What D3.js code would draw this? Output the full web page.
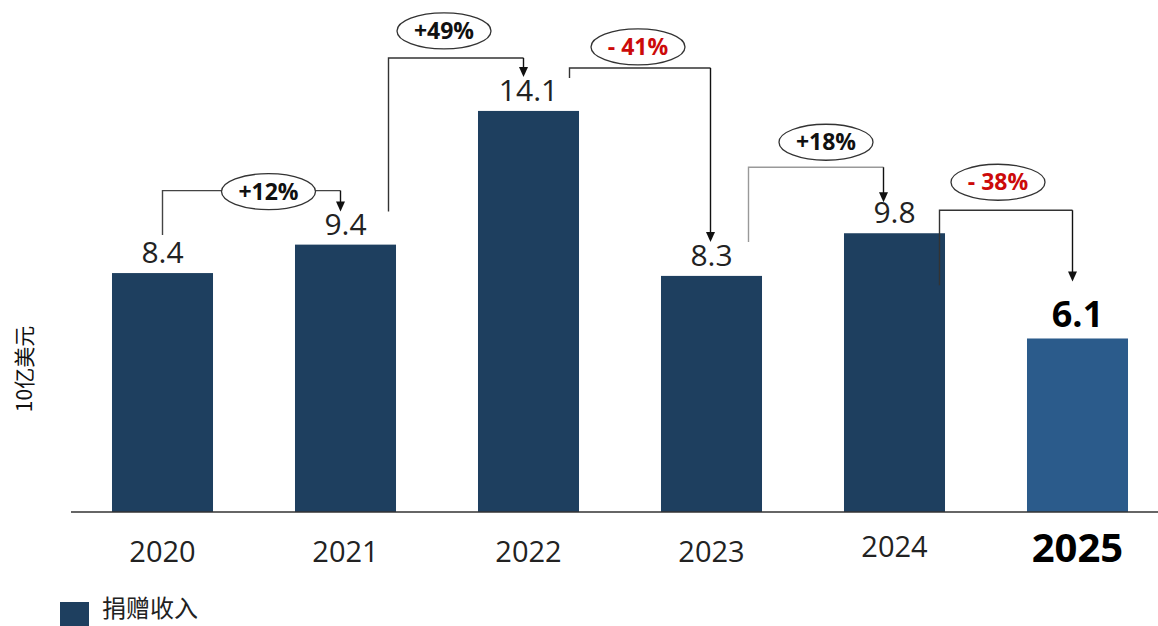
<!DOCTYPE html>
<html lang="zh"><head>
<meta charset="utf-8">
<title>捐赠收入</title>
<script src="https://cdn.jsdelivr.net/npm/d3@7"></script>
<style>
  body { margin: 0; background: #fff; }
  svg { display: block; font-family: "Open Sans", "Noto Sans", sans-serif; }
</style>
</head>
<body>
<svg id="chart" width="1158" height="626"></svg>
<script>
// data
let years = ["2020", "2021", "2022", "2023", "2024", "2025"]
let values = [8.4, 9.4, 14.1, 8.3, 9.8, 6.1]
let changes = ["+12%", "+49%", "- 41%", "+18%", "- 38%"]
let yLabel = "10亿美元"
let legendLabel = "捐赠收入"

// layout of the change connectors (offsets from bar centres / value positions)
let connLayout = [
  { dxl: 0, dxr: -5, lb: 38, tip: 33, rise: 54, ex: 17, ey: 1, line: "#444" },
  { dxl: 43, dxr: -5, lb: 33, tip: 34, rise: 53, ex: -12, ey: -27, line: "#333" },
  { dxl: 41, dxr: -1, lb: 33, tip: 34, rise: 43, ex: -2, ey: -21, line: "#333" },
  { dxl: 37, dxr: -11, lb: 34, tip: 31, rise: 66, ex: 10, ey: -25, line: "#999" },
  { dxl: 45, dxr: -5, lb: -52, tip: 57, rise: 23, ex: -8, ey: -28, line: "#333" }
]

let svg = d3.select("#chart")
let baseY = 512

let x = d3.scaleBand()
  .domain(years)
  .range([71, 1169])
  .paddingInner(0.448)
  .paddingOuter(0.224)

let y = d3.scaleLinear()
  .domain([0, 18])
  .range([baseY, 0])

let cx = i => x(years[i]) + x.bandwidth() / 2
let last = years.length - 1

// bars
svg.append("g")
  .selectAll("rect")
  .data(values)
  .join("rect")
  .attr("x", (d, i) => x(years[i]))
  .attr("y", d => y(d))
  .attr("width", x.bandwidth())
  .attr("height", d => baseY - y(d))
  .attr("fill", (d, i) => i == last ? "#2b5b8b" : "#1e3f5f")

// baseline
svg.append("line")
  .attr("x1", 71).attr("x2", 1158)
  .attr("y1", baseY).attr("y2", baseY)
  .attr("stroke", "#333")
  .attr("stroke-width", 1.5)

// value labels
svg.append("g")
  .selectAll("text")
  .data(values)
  .join("text")
  .attr("x", (d, i) => cx(i))
  .attr("y", (d, i) => y(d) - (i == last ? 11 : 10))
  .attr("text-anchor", "middle")
  .attr("font-size", (d, i) => i == last ? 36 : 30)
  .attr("font-weight", (d, i) => i == last ? 700 : 400)
  .attr("fill", (d, i) => i == last ? "#000" : "#222")
  .text(d => d.toFixed(1))

// year labels
svg.append("g")
  .selectAll("text")
  .data(years)
  .join("text")
  .attr("x", (d, i) => cx(i))
  .attr("y", (d, i) => i == 4 ? 557 : 562)
  .attr("text-anchor", "middle")
  .attr("font-size", (d, i) => i == last ? 40 : 29)
  .attr("font-weight", (d, i) => i == last ? 700 : 400)
  .attr("fill", (d, i) => i == last ? "#000" : "#222")
  .text(d => d)

// change connectors
let conn = svg.append("g")
changes.forEach((label, i) => {
  let L = connLayout[i]
  let xl = cx(i) + L.dxl
  let xr = cx(i + 1) + L.dxr
  let yTop = Math.min(y(values[i]), y(values[i + 1])) - L.rise
  let yLB = y(values[i]) - L.lb
  let yTip = y(values[i + 1]) - L.tip

  conn.append("path")
    .attr("d", `M${xl},${yLB}V${yTop}H${xr}`)
    .attr("fill", "none")
    .attr("stroke", L.line)
    .attr("stroke-width", 1.4)
  conn.append("path")
    .attr("d", `M${xr},${yTop}V${yTip - 8}`)
    .attr("fill", "none")
    .attr("stroke", "#111")
    .attr("stroke-width", 1.4)
  conn.append("path")
    .attr("d", `M${xr - 4.5},${yTip - 10}L${xr + 4.5},${yTip - 10}L${xr},${yTip}Z`)
    .attr("fill", "#111")

  let ex = (xl + xr) / 2 + L.ex
  let ey = yTop + L.ey
  conn.append("ellipse")
    .attr("cx", ex).attr("cy", ey)
    .attr("rx", 47).attr("ry", 18)
    .attr("fill", "#fff")
    .attr("stroke", "#333")
    .attr("stroke-width", 1.3)
  conn.append("text")
    .attr("x", ex).attr("y", ey + 8)
    .attr("text-anchor", "middle")
    .attr("font-size", 23)
    .attr("font-weight", 700)
    .attr("fill", label.startsWith("-") ? "#cc0a0a" : "#111")
    .text(label)
})

// y axis title
svg.append("text")
  .attr("transform", "translate(32,369) rotate(-90)")
  .attr("text-anchor", "middle")
  .attr("font-family", "'Noto Sans CJK SC', sans-serif")
  .attr("font-size", 21)
  .attr("fill", "#111")
  .text(yLabel)

// legend
svg.append("rect")
  .attr("x", 60).attr("y", 602)
  .attr("width", 29).attr("height", 24)
  .attr("fill", "#1e3f5f")
svg.append("text")
  .attr("x", 102).attr("y", 617)
  .attr("font-family", "'Noto Sans CJK SC', sans-serif")
  .attr("font-size", 24)
  .attr("fill", "#222")
  .text(legendLabel)
</script>
</body>
</html>
